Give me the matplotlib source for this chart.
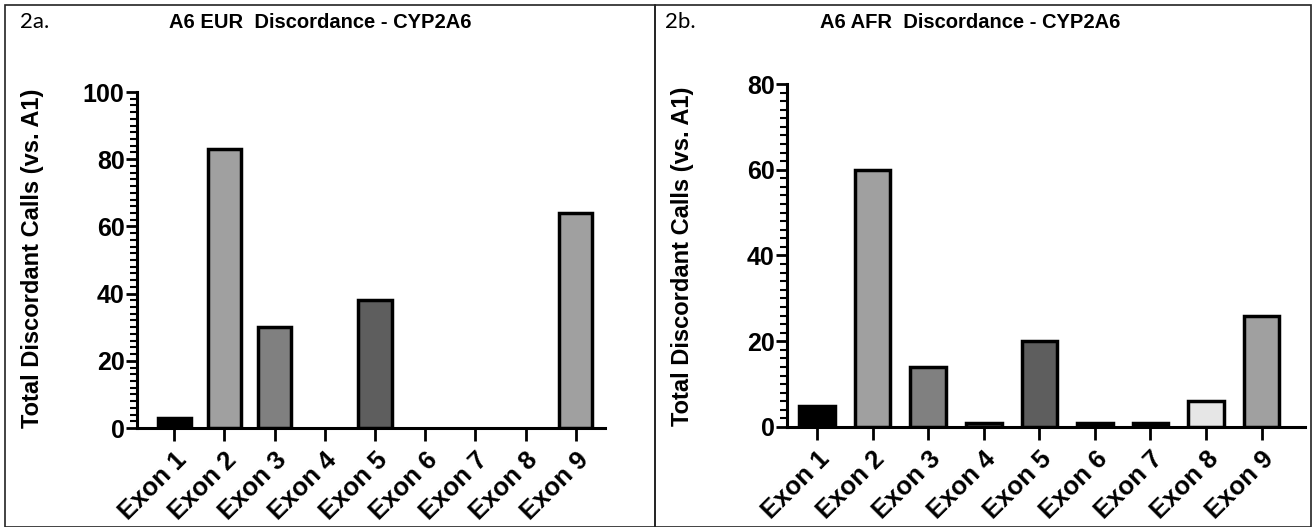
import matplotlib.pyplot as plt
from matplotlib import font_manager
from matplotlib.patches import Rectangle
from matplotlib.ticker import MultipleLocator

plt.rcParams['font.family'] = ['Liberation Sans', 'DejaVu Sans']

exons = ["Exon 1", "Exon 2", "Exon 3", "Exon 4", "Exon 5",
         "Exon 6", "Exon 7", "Exon 8", "Exon 9"]
eur_calls = [3, 83, 30, 0, 38, 0, 0, 0, 64]
afr_calls = [5, 60, 14, 1, 20, 1, 1, 6, 26]
bar_colors = ["#000000", "#a0a0a0", "#808080", "#4a4a4a", "#5e5e5e",
              "#000000", "#000000", "#e6e6e6", "#a0a0a0"]

# title font is a condensed sans in the original
names = {f.name for f in font_manager.fontManager.ttflist}
if "Liberation Sans Narrow" in names:
    title_font, title_size = "Liberation Sans Narrow", 17
else:
    title_font, title_size = "Liberation Sans", 14.5

W, H = 1314, 527
fig = plt.figure(figsize=(W / 100, H / 100), dpi=100)

# panel frames
for x0, x1 in [(5, 655), (655, 1311)]:
    fig.patches.append(Rectangle((x0 / W, 0), (x1 - x0) / W, 1 - 5 / H,
                                 transform=fig.transFigure, fill=False,
                                 edgecolor="#222222", linewidth=1.2))


def panel(rect, values, ymax, xlim, width, title, tag, title_x, tag_x, ylab_x, ylab_y):
    ax = fig.add_axes(rect)
    x = list(range(len(values)))
    # zero-height bars are not drawn in the original
    lw = [2.5 if v > 0 else 0 for v in values]
    ax.bar(x, values, width=width, color=bar_colors, edgecolor="black",
           linewidth=lw, zorder=3)
    ax.set_ylim(0, ymax)
    ax.set_xlim(*xlim)
    ax.yaxis.set_major_locator(MultipleLocator(20))
    ax.yaxis.set_minor_locator(MultipleLocator(2))
    ax.set_xticks(x)
    ax.set_xticklabels(exons, rotation=45, ha="right", rotation_mode="anchor",
                       fontsize=18.5, fontweight="bold")
    for s in ["top", "right"]:
        ax.spines[s].set_visible(False)
    for s in ["left", "bottom"]:
        ax.spines[s].set_linewidth(2.2)
    ax.tick_params(axis="y", which="major", length=8, width=2, labelsize=18, pad=1)
    ax.tick_params(axis="y", which="minor", length=5, width=1.5)
    ax.tick_params(axis="x", length=9, width=2, pad=5)
    for t in ax.get_yticklabels():
        t.set_fontweight("bold")
    fig.text(ylab_x / W, 1 - ylab_y / H, "Total Discordant Calls (vs. A1)", rotation=90,
             ha="center", va="center", fontsize=17, fontweight="bold")
    fig.text(title_x / W, 1 - 22 / H, title, ha="center", va="center",
             fontsize=title_size, fontweight="bold", family=[title_font, "DejaVu Sans"])
    fig.text(tag_x / W, 1 - 22 / H, tag, ha="left", va="center", fontsize=16,
             family=["Lato", "DejaVu Sans"])
    return ax


panel([137 / W, 1 - 428 / H, (605 - 137) / W, (428 - 92) / H],
      eur_calls, 100, (-0.74, 8.58), 0.66,
      "A6 EUR  Discordance - CYP2A6", "2a.", 320, 20, 33, 258)
panel([787 / W, 1 - 427 / H, (1305 - 787) / W, (427 - 84) / H],
      afr_calls, 80, (-0.54, 8.78), 0.64,
      "A6 AFR  Discordance - CYP2A6", "2b.", 970, 665, 682, 256)

fig.savefig("out.png", dpi=100)
